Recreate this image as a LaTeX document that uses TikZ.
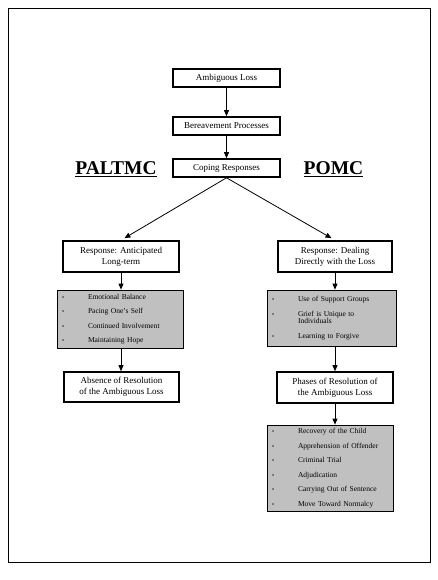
\documentclass[tikz,border=0pt]{standalone}
\usepackage{fontspec}
\setmainfont{Liberation Serif}
\usetikzlibrary{arrows.meta}
\definecolor{listgrey}{RGB}{192,192,192}
\newcommand{\bul}{{\fontsize{6}{6}\selectfont\textbullet}}
\newcommand{\listrows}[1]{\begin{tabular}{@{}p{26pt}@{}p{90pt}@{}}#1\end{tabular}}

\begin{document}
\begin{tikzpicture}[x = 1pt, y = -1pt,
  box/.style = {draw, line width = 1.6pt, align = center, inner sep = 0pt, font = \fontsize{9}{11}\selectfont},
  listbox/.style = {draw, line width = 0.8pt, fill = listgrey, inner xsep = 5pt, inner ysep = 0pt, font = \fontsize{7.5}{9}\selectfont},
  head/.style = {font = \fontsize{19.5}{20}\selectfont\bfseries},
  arr/.style = {-{Triangle[length = 6pt, width = 5pt]}, line width = 0.8pt}]
\useasboundingbox (0,0) rectangle (438,580);
\draw[line width = 0.8pt] (8,8) rectangle (430,562);

% top chain
\node[box, minimum width = 107, minimum height = 18] (loss) at (226.5,78) {Ambiguous Loss};
\node[box, minimum width = 107, minimum height = 18] (bereave) at (226.5,126) {Bereavement Processes};
\node[box, minimum width = 107, minimum height = 18] (coping) at (226.5,168) {Coping Responses};
\draw[arr] (loss) -- (bereave);
\draw[arr] (bereave) -- (coping);

\node[head] (paltmc) at (116,169) {\underline{PALTMC}};
\node[head] (pomc) at (333.5,169) {\underline{POMC}};

% left branch
\node[box, minimum width = 116, minimum height = 31] (antic) at (121,256.5) {Response: Anticipated\\Long-term};
\node[listbox, text width = 116pt, minimum height = 58] (leftlist) at (120,319) {\listrows{
  \bul & Emotional Balance\\[5.5pt]
  \bul & Pacing One's Self\\[5.5pt]
  \bul & Continued Involvement\\[5.5pt]
  \bul & Maintaining Hope}};
\node[box, minimum width = 115, minimum height = 30] (absence) at (121.5,387) {Absence of Resolution\\of the Ambiguous Loss};
\draw[arr, shorten > = 4pt] (coping.south) -- (antic.north);
\draw[arr] (antic.south) -- (antic.south |- leftlist.north);
\draw[arr] (leftlist.south -| antic.south) -- (absence.north -| antic.south);

% right branch
\node[box, minimum width = 114, minimum height = 31] (dealing) at (335,256.5) {Response: Dealing\\Directly with the Loss};
\node[listbox, text width = 119pt, minimum height = 56] (rightlist) at (331.5,318) {\listrows{
  \bul & Use of Support Groups\\[5.5pt]
  \bul & \fontsize{7.5}{7.5}\selectfont Grief is Unique to\newline Individuals\\[5.5pt]
  \bul & Learning to Forgive}};
\node[box, minimum width = 116, minimum height = 31] (phases) at (335,387.5) {Phases of Resolution of\\the Ambiguous Loss};
\node[listbox, text width = 116pt, minimum height = 86] (phaselist) at (330,468) {\listrows{
  \bul & Recovery of the Child\\[5.5pt]
  \bul & Apprehension of Offender\\[5.5pt]
  \bul & Criminal Trial\\[5.5pt]
  \bul & Adjudication\\[5.5pt]
  \bul & Carrying Out of Sentence\\[5.5pt]
  \bul & Move Toward Normalcy}};
\draw[arr, shorten > = 4pt] (coping.south) -- (dealing.north);
\draw[arr] (dealing.south) -- (dealing.south |- rightlist.north);
\draw[arr] (rightlist.south -| dealing.south) -- (phases.north);
\draw[arr] (phases.south) -- (phases.south |- phaselist.north);
\end{tikzpicture}
\end{document}
